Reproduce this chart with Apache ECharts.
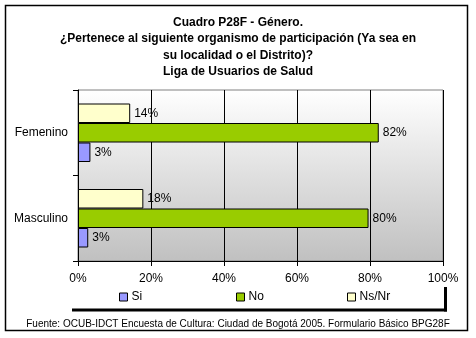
<!DOCTYPE html>
<html>
<head>
<meta charset="utf-8">
<script src="https://cdn.jsdelivr.net/npm/echarts@6/dist/echarts.min.js"></script>
<style>html,body{margin:0;padding:0;background:#fff;}#c{width:476px;height:338px;}</style>
</head>
<body>
<div id="c"></div>
<script>
var categories = ['Masculino', 'Femenino'];
var seriesNames = ['Si', 'No', 'Ns/Nr'];
var siValues = [2.8, 3.4];
var noValues = [79.6, 82.4];
var nsnrValues = [17.9, 14.3];
var xTicks = [0, 20, 40, 60, 80, 100];
var titleText = 'Cuadro P28F - Género.\n¿Pertenece al siguiente organismo de participación (Ya sea en\nsu localidad o el Distrito)?\nLiga de Usuarios de Salud';
var sourceText = 'Fuente: OCUB-IDCT Encuesta de Cultura: Ciudad de Bogotá 2005. Formulario Básico BPG28F';

var FONT = 'Liberation Sans';
var colors = ['#9999ff', '#99cc00', '#ffffcc'];
var values = [siValues, noValues, nsnrValues];

var chart = echarts.init(document.getElementById('c'), null, {renderer: 'canvas'});

var series = seriesNames.map(function (name, i) {
  return {
    name: name,
    type: 'bar',
    data: values[i],
    barWidth: 19.5,
    barGap: '0%',
    itemStyle: {color: colors[i], borderColor: '#000', borderWidth: 1},
    label: {
      show: true,
      position: 'right',
      distance: 4,
      color: '#000',
      fontFamily: FONT,
      fontSize: 12,
      formatter: function (p) { return Math.round(p.value) + '%'; }
    },
    emphasis: {disabled: true},
    animation: false
  };
}).reverse();

var legendLefts = [119, 236, 347];
var legends = seriesNames.map(function (name, i) {
  return {
    data: [name],
    left: legendLefts[i],
    top: 291,
    itemWidth: 8,
    itemHeight: 8,
    itemGap: 5,
    icon: 'rect',
    itemStyle: {borderColor: '#000', borderWidth: 1},
    textStyle: {color: '#000', fontFamily: FONT, fontSize: 12, padding: [0, 0, 0, -1]},
    padding: 0,
    selectedMode: false
  };
});

chart.setOption({
  animation: false,
  backgroundColor: '#fff',
  title: [{
    text: titleText,
    left: 'center',
    top: 9,
    textStyle: {color: '#000', fontFamily: FONT, fontSize: 12, fontWeight: 'bold', lineHeight: 16.5}
  }, {
    text: sourceText,
    left: 'center',
    top: 314,
    textStyle: {color: '#000', fontFamily: FONT, fontSize: 10, fontWeight: 'normal'}
  }],
  legend: legends,
  grid: {
    left: 78, right: 33, top: 90, bottom: 77,
    show: true,
    borderColor: '#808080',
    borderWidth: 1,
    backgroundColor: {
      type: 'linear', x: 0, y: 0, x2: 0, y2: 1,
      colorStops: [{offset: 0, color: '#ffffff'}, {offset: 1, color: '#c0c0c0'}]
    }
  },
  xAxis: {
    type: 'value',
    min: xTicks[0],
    max: xTicks[xTicks.length - 1],
    interval: xTicks[1] - xTicks[0],
    axisLine: {show: true, lineStyle: {color: '#000', width: 1}},
    axisTick: {show: true, length: 5, lineStyle: {color: '#000'}},
    splitLine: {show: true, lineStyle: {color: '#000', width: 1}},
    axisLabel: {color: '#000', fontFamily: FONT, fontSize: 12, margin: 12, formatter: '{value}%'}
  },
  yAxis: {
    type: 'category',
    data: categories,
    axisLine: {show: true, lineStyle: {color: '#000', width: 1}},
    axisTick: {show: true, length: 5, lineStyle: {color: '#000'}},
    axisLabel: {color: '#000', fontFamily: FONT, fontSize: 12, margin: 10}
  },
  series: series,
  graphic: [
    {type: 'rect', shape: {x: 5.5, y: 5.5, width: 462, height: 325}, style: {fill: 'none', stroke: '#000', lineWidth: 1.5}, z: 100},
    {type: 'line', shape: {x1: 72, y1: 310, x2: 447, y2: 310}, style: {stroke: '#000', lineWidth: 3}, z: 100},
    {type: 'line', shape: {x1: 445.5, y1: 287, x2: 445.5, y2: 311.5}, style: {stroke: '#000', lineWidth: 3}, z: 100}
  ]
});
</script>
</body>
</html>
